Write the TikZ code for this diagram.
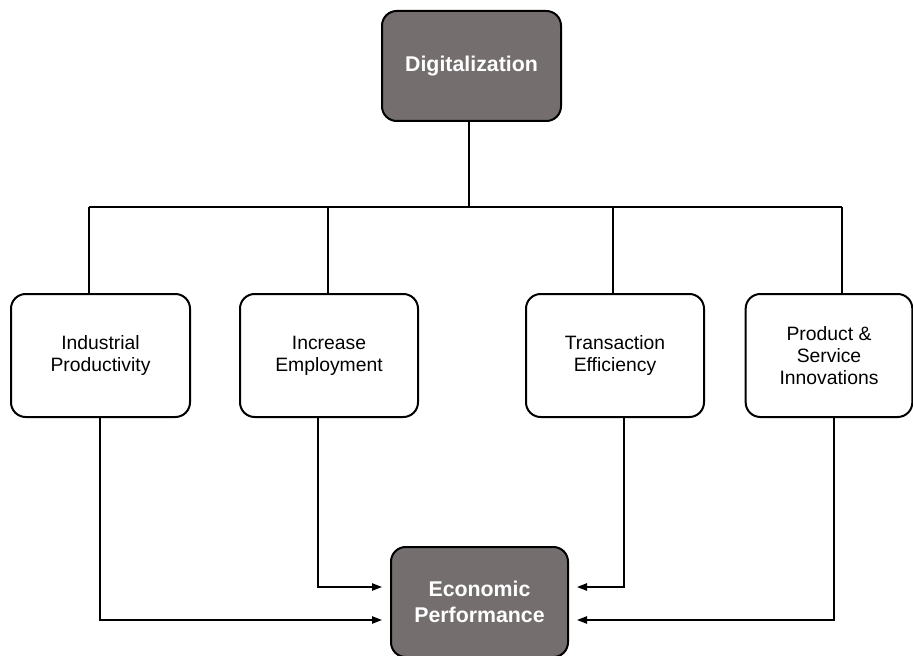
\documentclass[tikz,border=0pt]{standalone}
\usepackage{fontspec}
\setmainfont{Liberation Sans}
\usetikzlibrary{arrows.meta}
\definecolor{boxgray}{RGB}{116,111,110}
\tikzset{
  px/.style={x=0.75pt,y=-0.75pt},
  basebox/.style={draw=black, line width=1.5pt, rounded corners=11pt, align=center, inner sep=0pt},
  darkbox/.style={basebox, fill=boxgray, text=white, font=\fontsize{16}{19}\selectfont\bfseries},
  lightbox/.style={basebox, fill=white, font=\fontsize{14.5}{16.5}\selectfont},
  conn/.style={draw=black, line width=1pt},
  arr/.style={conn, -{Triangle[length=7.5pt,width=5.5pt]}, shorten >=6pt}
}
\begin{document}
\begin{tikzpicture}[px]
\useasboundingbox (0,0) rectangle (913,656);
\node[darkbox, minimum width=134.25pt, minimum height=82.5pt] (dig) at (471.5,66) {Digitalization};
\node[lightbox, minimum width=134.25pt, minimum height=92.25pt] (b1) at (100.5,355.5) {Industrial\\Productivity};
\node[lightbox, minimum width=133.5pt, minimum height=92.25pt] (b2) at (329,355.5) {Increase\\Employment};
\node[lightbox, minimum width=133.5pt, minimum height=92.25pt] (b3) at (615,355.5) {Transaction\\Efficiency};
\node[lightbox, minimum width=125pt, minimum height=92.25pt] (b4) at (829,355.5) {Product \&\\Service\\Innovations};
\node[darkbox, minimum width=132.75pt, minimum height=82.5pt] (eco) at (479.5,602) {Economic\\Performance};
% tree
\coordinate (j) at (469,207);
\coordinate (t1) at (89,207);
\coordinate (t2) at (328,207);
\coordinate (t3) at (613,207);
\coordinate (t4) at (842,207);
\draw[conn] (dig.south -| j) -- (j);
\draw[conn] (t1) -- (t4);
\draw[conn] (t1) -- (t1 |- b1.north);
\draw[conn] (t2) -- (t2 |- b2.north);
\draw[conn] (t3) -- (t3 |- b3.north);
\draw[conn] (t4) -- (t4 |- b4.north);
% arrows to economic performance
\coordinate (s1) at (100,620);
\coordinate (s2) at (318,587);
\coordinate (s3) at (624,587);
\coordinate (s4) at (834,620);
\draw[arr] (s1 |- b1.south) -- (s1) -- (s1 -| eco.west);
\draw[arr] (s2 |- b2.south) -- (s2) -- (s2 -| eco.west);
\draw[arr] (s3 |- b3.south) -- (s3) -- (s3 -| eco.east);
\draw[arr] (s4 |- b4.south) -- (s4) -- (s4 -| eco.east);
\end{tikzpicture}
\end{document}
